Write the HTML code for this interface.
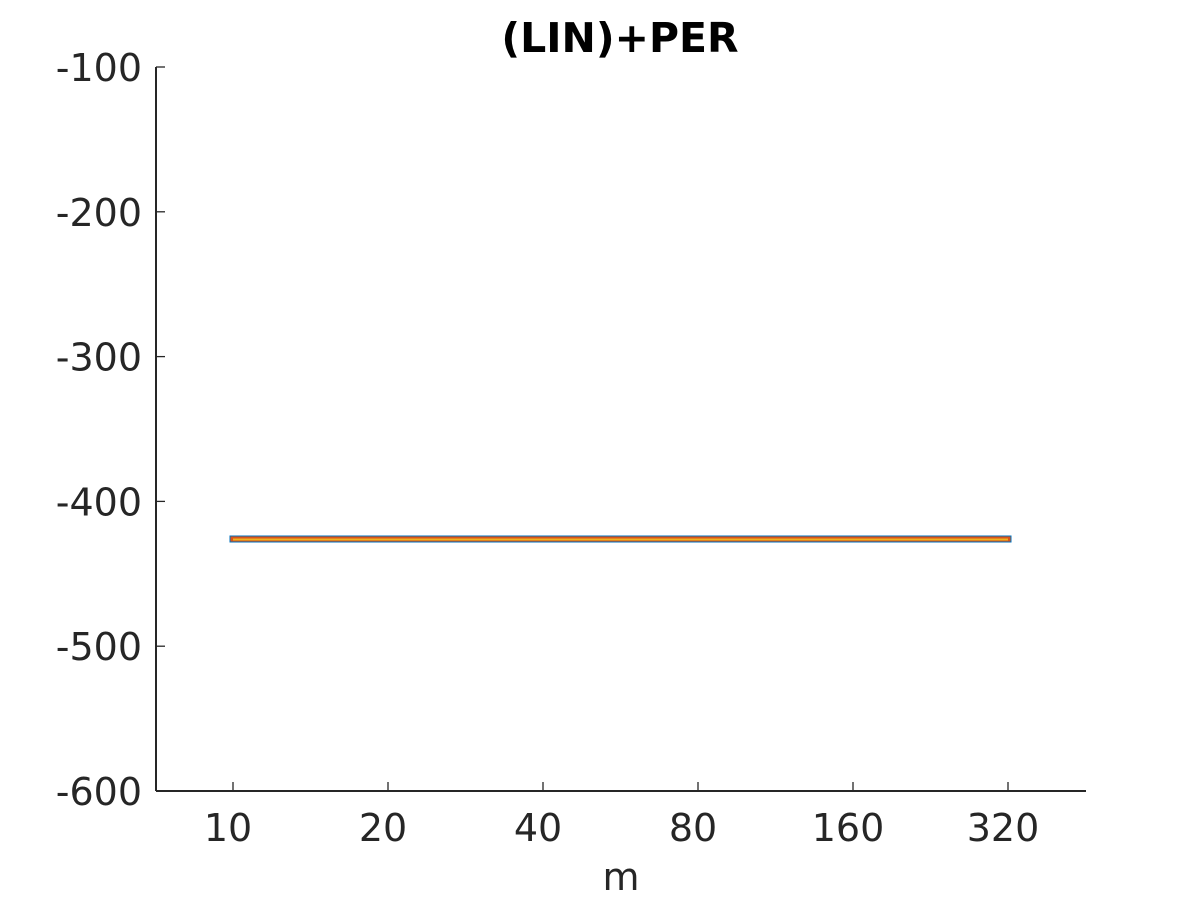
<!DOCTYPE html>
<html><head><meta charset="utf-8"><style>
html,body{margin:0;padding:0;background:#fff;}
svg{display:block;}
text{font-family:"DejaVu Sans","Liberation Sans",sans-serif;fill:#262626;}
</style></head><body>
<svg id="chart" width="1200" height="900" xmlns="http://www.w3.org/2000/svg">
<rect width="1200" height="900" fill="#fff"/>
<g id="marks"></g>
<g id="axes"></g>
<text x="620" y="52" text-anchor="middle" font-size="41" font-weight="bold" style="fill:#000">(LIN)+PER</text>
<text x="621" y="890" text-anchor="middle" font-size="38">m</text>
</svg>
<script>
const categories = [10, 20, 40, 80, 160, 320];
const seriesBlue = [-426, -426, -426, -426, -426, -426];
const seriesRed = [-426, -426, -426, -426, -426, -426];
const seriesYellow = [-426.3, -426.3, -426.3, -426.3, -426.3, -426.3];
const yTicks = [-100, -200, -300, -400, -500, -600];
const xTickLabels = ["10", "20", "40", "80", "160", "320"];

const NS = "http://www.w3.org/2000/svg";
const x0 = 156, x1 = 1086, yTop = 67, yBot = 791;
function xs(v){ return 233 + 155 * Math.log2(v / 10); }
function ys(v){ return yTop + (-100 - v) / 500 * (yBot - yTop); }
function mk(tag, attrs, parent){
  const e = document.createElementNS(NS, tag);
  for (const k in attrs) e.setAttribute(k, attrs[k]);
  parent.appendChild(e); return e;
}
const marks = document.getElementById('marks');
const axes = document.getElementById('axes');

function drawSeries(vals, color, width, cap, name){
  const pts = categories.map((c,i)=> xs(c).toFixed(1)+","+ys(vals[i]).toFixed(1)).join(" ");
  const p = mk('polyline', {points: pts, fill:'none', stroke: color, 'stroke-width': width, 'stroke-linecap': cap}, marks);
  
  
}
drawSeries(seriesBlue, '#0072BD', 7, 'square', 'series-blue');
drawSeries(seriesRed, '#D95319', 5, 'square', 'series-red');
drawSeries(seriesYellow, '#EDB120', 2, 'butt', 'series-yellow');

const ax = mk('line', {x1:x0, y1:yBot, x2:x1, y2:yBot, stroke:'#262626', 'stroke-width':2}, axes);


const ay = mk('line', {x1:x0, y1:yTop, x2:x0, y2:yBot, stroke:'#262626', 'stroke-width':2}, axes);



yTicks.forEach(v=>{
  const y = ys(v);
  const t = mk('line', {x1:x0, y1:y, x2:x0+9, y2:y, stroke:'#262626', 'stroke-width':1.3}, axes);
  
  
  const l = mk('text', {x:142, y:y+14, 'text-anchor':'end', 'font-size':38}, axes);
  l.textContent = String(v);
  
  
});
categories.forEach((c,i)=>{
  const x = xs(c);
  const t = mk('line', {x1:x, y1:yBot, x2:x, y2:yBot-9, stroke:'#262626', 'stroke-width':1.3}, axes);
  
  
  const l = mk('text', {x:x-5, y:841, 'text-anchor':'middle', 'font-size':38}, axes);
  l.textContent = xTickLabels[i];
  
  
});
</script>
</body></html>
